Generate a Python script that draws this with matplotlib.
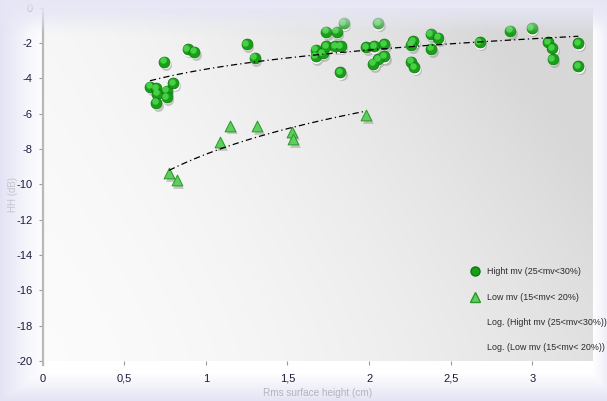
import matplotlib
matplotlib.use("Agg")
import matplotlib.pyplot as plt
import matplotlib.transforms as mtransforms
from matplotlib.lines import Line2D
import numpy as np

plt.rcParams['font.family'] = ['Liberation Sans', 'DejaVu Sans']

# Rms surface height (cm) vs HH backscatter (dB), two soil moisture classes
high_x = [0.746, 0.889, 0.928, 1.250, 1.299, 0.658, 0.695, 0.703, 0.760, 0.760,
          0.801, 0.695, 1.736, 1.801, 1.844, 2.054, 1.673, 1.673, 1.716, 1.736,
          1.793, 1.826, 1.822, 1.981, 2.030, 2.091, 2.091, 2.053, 2.026, 2.271,
          2.257, 2.377, 2.424, 2.379, 2.257, 2.277, 2.677, 2.863, 2.996, 3.098,
          3.122, 3.124, 3.281, 3.281]
high_y = [-3.06, -2.36, -2.49, -2.06, -2.83, -4.48, -4.55, -4.87, -4.70, -5.06,
          -4.27, -5.38, -1.36, -1.36, -0.89, -0.89, -2.38, -2.76, -2.57, -2.19,
          -2.19, -2.19, -3.66, -2.23, -2.19, -2.06, -2.76, -2.91, -3.17, -1.91,
          -2.10, -1.49, -1.70, -2.32, -3.06, -3.38, -1.96, -1.30, -1.17, -1.96,
          -2.29, -2.91, -2.01, -3.31]

low_x = [0.775, 0.822, 1.087, 1.148, 1.316, 1.530, 1.536, 1.981]
low_y = [-9.37, -9.78, -7.63, -6.69, -6.72, -7.01, -7.44, -6.08]

x_ticks = [0, 0.5, 1, 1.5, 2, 2.5, 3]
x_tick_labels = ["0", "0,5", "1", "1,5", "2", "2,5", "3"]
y_ticks = [0, -2, -4, -6, -8, -10, -12, -14, -16, -18, -20]
y_tick_labels = ["0", "-2", "-4", "-6", "-8", "-10", "-12", "-14", "-16", "-18", "-20"]

labels = ["Hight mv (25<mv<30%)", "Low mv (15<mv< 20%)",
          "Log. (Hight mv (25<mv<30%))", "Log. (Low mv (15<mv< 20%))"]

W, H = 607, 401
fig = plt.figure(figsize=(W / 100, H / 100), dpi=100)

# lavender frame behind everything
bg = fig.add_axes([0, 0, 1, 1], zorder=-10)
bg.axis('off')
yy, xx = np.mgrid[0:H, 0:W]
lav = np.array([0.89, 0.89, 0.96])
w_left = np.clip(1 - xx / 45.0, 0, 1) ** 1.2
w_bot = np.clip((yy - 372) / 29.0, 0, 1)
w_right = np.clip((xx - 592) / 15.0, 0, 1) * 0.6
w = np.maximum.reduce([w_left, w_bot, w_right])[..., None]
bg.imshow(np.ones((H, W, 3)) * (1 - w) + lav * w, aspect='auto', extent=(0, 1, 0, 1),
          transform=bg.transAxes)
bg.set_xlim(0, 1)
bg.set_ylim(0, 1)

ax = fig.add_axes([42.5 / W, 40 / H, 549.5 / W, 353.3 / H])
ax.patch.set_alpha(0)

# plot area gradient: white bottom-left to grey top-right
gy, gx = np.mgrid[0:200, 0:300]
u = gx / 299.0
v = 1 - gy / 199.0
t = np.clip(0.75 * u ** 1.6 + 0.45 * v ** 1.4 * (0.3 + u), 0, 1)
shade = 0.985 - 0.14 * t
ax.imshow(np.dstack([shade, shade, shade]), aspect='auto', extent=(0, 1, 0, 1),
          transform=ax.transAxes, zorder=0)


def sphere_points(x, y, size):
    shadow = mtransforms.offset_copy(ax.transData, fig=fig, x=1.2, y=-2.2, units='points')
    rim = mtransforms.offset_copy(ax.transData, fig=fig, x=0.3, y=-1.0, units='points')
    hl = mtransforms.offset_copy(ax.transData, fig=fig, x=-0.9, y=1.0, units='points')
    ax.scatter(x, y, s=size, color='#8a8a8a', alpha=0.45, lw=0, transform=shadow, zorder=2)
    ax.scatter(x, y, s=size, color='white', lw=0, transform=rim, zorder=3)
    ax.scatter(x, y, s=size, color='#1a9e1a', edgecolor='#107410', lw=0.5, zorder=4)
    ax.scatter(x, y, s=size * 0.35, color='#4cd64c', lw=0, alpha=0.9, transform=hl, zorder=5)


def triangle_points(x, y, size):
    shadow = mtransforms.offset_copy(ax.transData, fig=fig, x=1.2, y=-1.8, units='points')
    ax.scatter(x, y, s=size, marker='^', color='#8a8a8a', alpha=0.45, lw=0,
               transform=shadow, zorder=2)
    ax.scatter(x, y, s=size, marker='^', color='#5ccf5c', edgecolor='#2a962a', lw=0.7, zorder=4)


sphere_points(high_x, high_y, 62)
triangle_points(low_x, low_y, 60)

# logarithmic trendlines, least squares on ln(x)
for xs, ys in [(high_x, high_y), (low_x, low_y)]:
    xs = np.asarray(xs)
    b, a = np.polyfit(np.log(xs), np.asarray(ys), 1)
    xf = np.linspace(xs.min(), xs.max(), 200)
    ax.plot(xf, a + b * np.log(xf), color='black', lw=0.9,
            linestyle=(0, (5, 2.5, 1, 2.5)), zorder=6)

ax.set_xlim(0, 3.365)
ax.set_ylim(-20, 0)
ax.set_xticks(x_ticks)
ax.set_xticklabels(x_tick_labels)
ax.set_yticks(y_ticks)
ax.set_yticklabels(y_tick_labels)
ax.tick_params(axis='both', direction='out', length=3, width=0.8, colors='#9a9a9a',
               labelcolor='#1c1c3c', labelsize=8)
ax.tick_params(axis='x', pad=6)
ax.tick_params(axis='y', pad=4)
for s in ['top', 'right', 'bottom']:
    ax.spines[s].set_visible(False)
ax.spines['left'].set_color('#b8b8b8')
ax.spines['left'].set_linewidth(1.6)
ax.spines['left'].set_bounds(-20.2, 0)

ax.set_xlabel("Rms surface height (cm)", fontsize=7.2, color='#b4b4bc', labelpad=3)
ax.set_ylabel("HH (dB)", fontsize=7, color='#c4c4cc')
ax.yaxis.set_label_coords(-24.5 / 549.5, 0.47)

handles = [Line2D([], [], marker='o', linestyle='none', markersize=6.5,
                  markerfacecolor='#1a9e1a', markeredgecolor='#107410'),
           Line2D([], [], marker='^', linestyle='none', markersize=6.5,
                  markerfacecolor='#5ccf5c', markeredgecolor='#2a962a'),
           Line2D([], [], linestyle='none'),
           Line2D([], [], linestyle='none')]
leg = ax.legend(handles, labels, loc='upper left', bbox_to_anchor=(466 / W, 1 - 263 / H),
                bbox_transform=fig.transFigure, frameon=False, fontsize=6.4,
                labelspacing=1.83, handlelength=1.0, handletextpad=0.9, borderpad=0)
for txt in leg.get_texts():
    txt.set_color('#2a2a2a')

# haze along the top edge
hz = fig.add_axes([0, 1 - 34 / H, 1, 34 / H], zorder=20)
hz.axis('off')
ry = np.linspace(0, 1, 68)[:, None]
alpha = 0.95 * np.cos(ry * np.pi / 2) ** 1.1
haze = np.zeros((68, 2, 4))
haze[..., :3] = [0.905, 0.905, 0.965]
haze[..., 3] = alpha
hz.imshow(haze, aspect='auto', extent=(0, 1, 0, 1), transform=hz.transAxes)
hz.set_xlim(0, 1)
hz.set_ylim(0, 1)

fig.savefig("out.png", dpi=100)
